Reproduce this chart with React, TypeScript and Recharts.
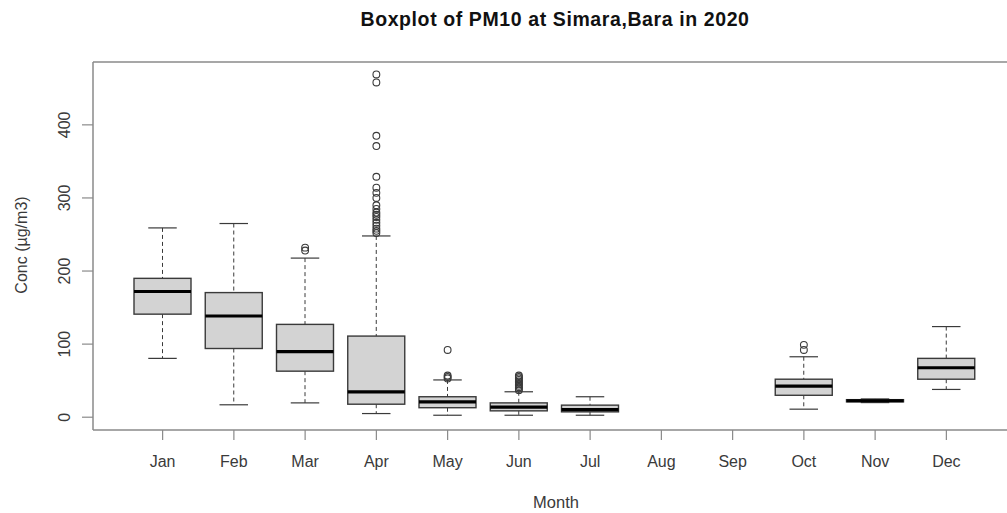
import React from 'react';
import { ComposedChart, Bar, Scatter, XAxis, YAxis } from 'recharts';

const months = ['Jan', 'Feb', 'Mar', 'Apr', 'May', 'Jun', 'Jul', 'Aug', 'Sep', 'Oct', 'Nov', 'Dec'];
const whiskerLow = [80.5, 17, 19.6, 5, 2.7, 2.7, 2.7, null, null, 11, 20, 38];
const q1 = [141, 94, 63, 17.8, 13, 8.7, 7.3, null, null, 30, 21, 52];
const median = [172, 138.5, 89.6, 34.7, 21, 13.7, 10.5, null, null, 42.5, 22.5, 67.7];
const q3 = [190, 170.5, 127, 111, 28, 19.6, 16.5, null, null, 52, 24, 80.5];
const whiskerHigh = [259, 265, 217.7, 248, 51, 34.8, 28, null, null, 82.7, 25, 124];

const outlierMonths = [
  'Mar', 'Mar',
  'Apr', 'Apr', 'Apr', 'Apr', 'Apr', 'Apr', 'Apr', 'Apr', 'Apr', 'Apr', 'Apr', 'Apr', 'Apr', 'Apr', 'Apr', 'Apr', 'Apr', 'Apr', 'Apr',
  'May', 'May', 'May', 'May',
  'Jun', 'Jun', 'Jun', 'Jun', 'Jun', 'Jun', 'Jun', 'Jun', 'Jun', 'Jun', 'Jun',
  'Oct', 'Oct',
];
const outlierValues = [
  228, 232,
  469, 458, 385, 371, 329, 314, 307, 300, 290, 285, 280, 277, 274, 270, 266, 262, 258, 255, 252,
  92, 57, 55, 53,
  57, 55, 53, 51, 49, 47, 45, 43, 41, 39, 37,
  99, 92,
];

const yTicks = [0, 100, 200, 300, 400];
const yDomain = [-17.5, 486];

const data = months.map((m, i) => ({
  month: m,
  low: whiskerLow[i],
  q1: q1[i],
  median: median[i],
  q3: q3[i],
  high: whiskerHigh[i],
}));

const outliers = outlierMonths.map((m, i) => ({ month: m, value: outlierValues[i] }));

const FONT = '"Liberation Sans", Arial, sans-serif';
const FRAME = '#8a8a8a';
const INK = '#3a3a3a';

const BoxShape = (props: any) => {
  const { x, y, width, height, payload } = props;
  if (!payload || payload.low == null) return null;
  const top = Math.min(y, y + height);
  const bottom = Math.max(y, y + height);
  const k = (bottom - top) / (payload.high - payload.low);
  const py = (v: number) => top + (payload.high - v) * k;
  const cx = x + width / 2;
  const capHalf = width / 4;
  const yq3 = py(payload.q3);
  const yq1 = py(payload.q1);
  const ymed = py(payload.median);
  return (
    <g>
      <line x1={cx} x2={cx} y1={top} y2={yq3} stroke={INK} strokeWidth={1} strokeDasharray="4 3" />
      <line x1={cx} x2={cx} y1={yq1} y2={bottom} stroke={INK} strokeWidth={1} strokeDasharray="4 3" />
      <line x1={cx - capHalf} x2={cx + capHalf} y1={top} y2={top} stroke={INK} strokeWidth={1.2} />
      <line x1={cx - capHalf} x2={cx + capHalf} y1={bottom} y2={bottom} stroke={INK} strokeWidth={1.2} />
      <rect x={x} y={yq3} width={width} height={Math.max(yq1 - yq3, 0.5)} fill="#d3d3d3" stroke={INK} strokeWidth={1.4} />
      <line x1={x} x2={x + width} y1={ymed} y2={ymed} stroke="#000" strokeWidth={3.2} />
    </g>
  );
};

const OutlierShape = (props: any) => {
  const { cx, cy } = props;
  if (cx == null || cy == null) return null;
  return <circle cx={cx} cy={cy} r={3.4} fill="none" stroke={INK} strokeWidth={1.1} />;
};

const XTick = (props: any) => {
  const { x, y, payload } = props;
  return (
    <text x={x} y={y + 25} textAnchor="middle" fontFamily={FONT} fontSize={16} fill={INK}>
      {payload.value}
    </text>
  );
};

const YTick = (props: any) => {
  const { x, y, payload } = props;
  const bx = x - 10;
  return (
    <text x={bx} y={y} transform={`rotate(-90, ${bx}, ${y})`} textAnchor="middle" fontFamily={FONT} fontSize={16} fill={INK}>
      {payload.value}
    </text>
  );
};

export default function App() {
  return (
    <div style={{ position: 'absolute', left: 0, top: 0, width: 1007, height: 513, overflow: 'hidden', background: '#fff' }}>
      <ComposedChart
        width={1016}
        height={513}
        data={data}
        margin={{ top: 61, right: 0, bottom: 0, left: 0 }}
      >
        <XAxis
          dataKey="month"
          type="category"
          allowDuplicatedCategory={false}
          padding={{ left: 34, right: 34 }}
          height={83}
          tickSize={10}
          axisLine={{ stroke: FRAME, strokeWidth: 1.5 }}
          tickLine={{ stroke: FRAME, strokeWidth: 1.2 }}
          tick={<XTick />}
          interval={0}
        />
        <XAxis
          xAxisId="top"
          orientation="top"
          dataKey="month"
          type="category"
          allowDuplicatedCategory={false}
          height={1}
          tick={false}
          tickLine={false}
          axisLine={{ stroke: FRAME, strokeWidth: 1.5 }}
        />
        <YAxis
          type="number"
          domain={yDomain}
          ticks={yTicks}
          allowDataOverflow
          width={93}
          tickSize={11}
          axisLine={{ stroke: FRAME, strokeWidth: 1.5 }}
          tickLine={{ stroke: FRAME, strokeWidth: 1.2 }}
          tick={<YTick />}
        />
        <Bar
          dataKey={(d: any) => (d.low == null ? null : [d.low, d.high])}
          barSize={57}
          shape={<BoxShape />}
          isAnimationActive={false}
        />
        <Scatter data={outliers} dataKey="value" shape={<OutlierShape />} isAnimationActive={false} />
      </ComposedChart>
      <svg width={1007} height={513} style={{ position: 'absolute', left: 0, top: 0, pointerEvents: 'none' }}>
        <text x={555} y={25.5} textAnchor="middle" fontFamily={FONT} fontSize={19.5} fontWeight="bold" letterSpacing={0.6} fill="#111">
          Boxplot of PM10 at Simara,Bara in 2020
        </text>
        <text x={556} y={508} textAnchor="middle" fontFamily={FONT} fontSize={16.5} fill={INK}>
          Month
        </text>
        <text x={27} y={245} transform="rotate(-90, 27, 245)" textAnchor="middle" fontFamily={FONT} fontSize={16} fill={INK}>
          Conc (µg/m3)
        </text>
      </svg>
    </div>
  );
}
